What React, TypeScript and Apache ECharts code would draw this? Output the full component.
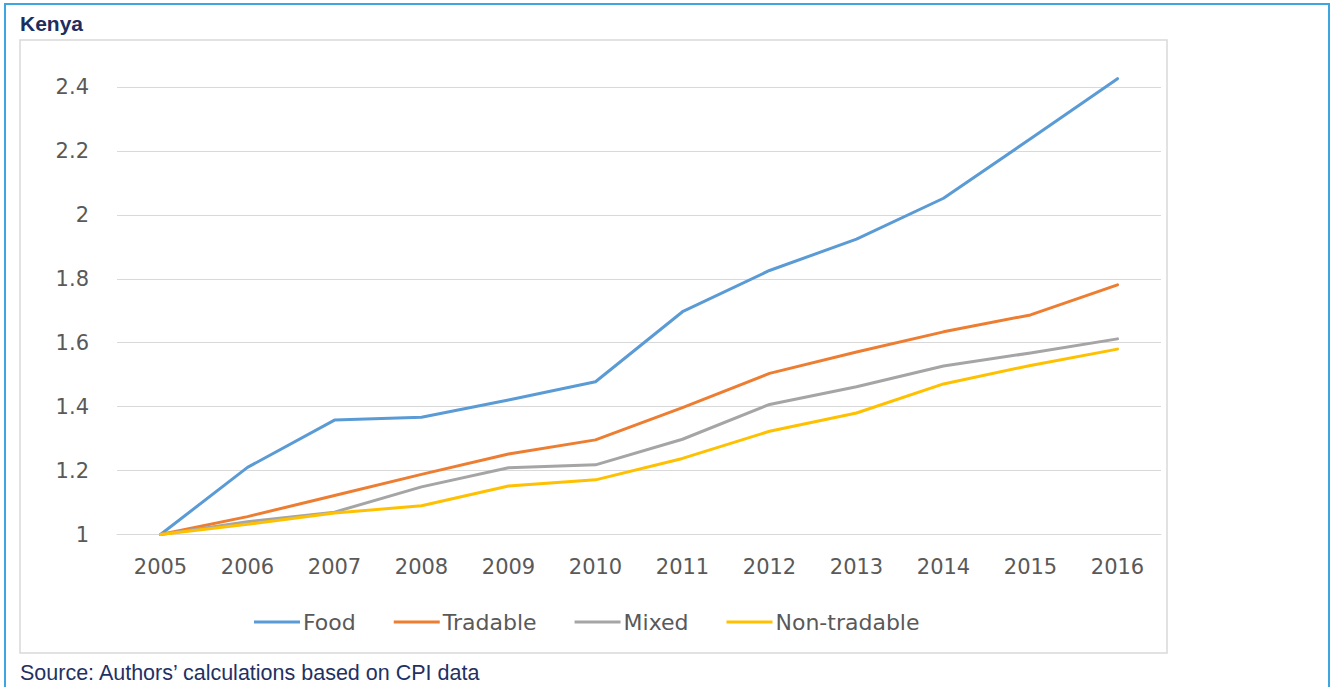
import React, { useEffect, useRef } from "react";
import * as echarts from "echarts";

const years = ["2005", "2006", "2007", "2008", "2009", "2010", "2011", "2012", "2013", "2014", "2015", "2016"];
const food = [1.0, 1.21, 1.358, 1.367, 1.421, 1.478, 1.697, 1.826, 1.924, 2.052, 2.238, 2.426];
const tradable = [1.0, 1.056, 1.122, 1.188, 1.252, 1.296, 1.397, 1.504, 1.571, 1.634, 1.687, 1.781];
const mixed = [1.0, 1.04, 1.07, 1.149, 1.209, 1.218, 1.298, 1.407, 1.462, 1.527, 1.568, 1.612];
const nonTradable = [1.0, 1.032, 1.067, 1.09, 1.152, 1.171, 1.238, 1.323, 1.38, 1.471, 1.529, 1.58];
const seriesNames = ["Food", "Tradable", "Mixed", "Non-tradable"];
const seriesColors = ["#5B9BD5", "#ED7D31", "#A5A5A5", "#FFC000"];
const yMin = 1;
const yMax = 2.4;
const yStep = 0.2;
const titleText = "Kenya";
const sourceText = "Source: Authors\u2019 calculations based on CPI data";

export default function App() {
  const ref = useRef<HTMLDivElement>(null);
  useEffect(() => {
    if (!ref.current) return;
    const chart = echarts.init(ref.current, undefined, { renderer: "svg" });
    const data = [food, tradable, mixed, nonTradable];
    chart.setOption({
      animation: false,
      backgroundColor: "#ffffff",
      graphic: [
        {
          type: "rect",
          shape: { x: 5, y: 4, width: 1324, height: 720 },
          style: { fill: "none", stroke: "#3DA5E0", lineWidth: 2 },
          silent: true,
        },
        {
          type: "rect",
          shape: { x: 20, y: 40, width: 1147, height: 613 },
          style: { fill: "none", stroke: "#D9D9D9", lineWidth: 1.5 },
          silent: true,
        },
        {
          type: "text",
          x: 20,
          y: 23,
          style: {
            text: titleText,
            fill: "#1C2D5F",
            font: "bold 21px 'Liberation Sans', Arial, sans-serif",
            textAlign: "left",
            textVerticalAlign: "middle",
            align: "left",
            verticalAlign: "middle",
          },
        },
        {
          type: "text",
          x: 20,
          y: 673,
          style: {
            text: sourceText,
            fill: "#1F3163",
            font: "21.5px 'Liberation Sans', Arial, sans-serif",
            textAlign: "left",
            textVerticalAlign: "middle",
            align: "left",
            verticalAlign: "middle",
          },
        },
      ],
      grid: { left: 117, right: 172, top: 87, bottom: 152.5, containLabel: false },
      legend: {
        data: seriesNames,
        left: 249,
        top: 606,
        icon: "rect",
        itemWidth: 46,
        itemHeight: 3,
        itemGap: 38,
        textStyle: { color: "#595959", fontSize: 22, fontFamily: "DejaVu Sans", padding: [0, 0, 0, -2] },
      },
      xAxis: {
        type: "category",
        data: years,
        boundaryGap: true,
        axisLine: { show: true, lineStyle: { color: "#D9D9D9", width: 1 } },
        axisTick: { show: false },
        axisLabel: { color: "#595959", fontSize: 21, fontFamily: "DejaVu Sans", margin: 22 },
      },
      yAxis: {
        type: "value",
        min: yMin,
        max: yMax,
        interval: yStep,
        axisLine: { show: false },
        axisTick: { show: false },
        splitLine: { show: true, lineStyle: { color: "#D9D9D9", width: 1 } },
        axisLabel: { color: "#595959", fontSize: 21, fontFamily: "DejaVu Sans", margin: 28 },
      },
      series: seriesNames.map((name, i) => ({
        name,
        type: "line",
        data: data[i],
        symbol: "none",
        clip: false,
        color: seriesColors[i],
        lineStyle: { color: seriesColors[i], width: 3, cap: "round", join: "round" },
      })),
    });
    return () => chart.dispose();
  }, []);
  return (
    <div
      ref={ref}
      style={{ position: "absolute", left: 0, top: 0, width: 1333, height: 687 }}
    />
  );
}
